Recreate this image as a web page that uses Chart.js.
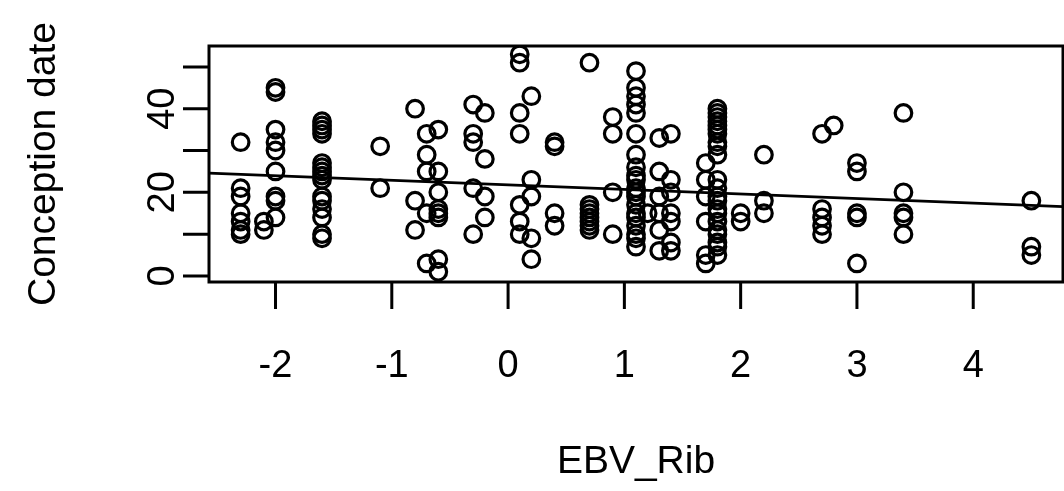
<!DOCTYPE html>
<html>
<head>
<meta charset="utf-8">
<title>Conception date vs EBV_Rib</title>
<script src="https://cdn.jsdelivr.net/npm/chart.js@4.4.0/dist/chart.umd.min.js"></script>
<style>
    html, body { margin: 0; padding: 0; background: #ffffff; overflow: hidden; }
    canvas { display: block; }
</style>
</head>
<body>
<canvas id="scatter" width="1064" height="491"></canvas>
<script>
"use strict";

// Data, one column of EBV_Rib per line
var ebvRib = [
    -2.3, -2.3, -2.3, -2.3, -2.3, -2.3, -2.3,
    -2.1, -2.1,
    -2.0, -2.0, -2.0, -2.0, -2.0, -2.0, -2.0, -2.0, -2.0,
    -1.6, -1.6, -1.6, -1.6, -1.6, -1.6, -1.6, -1.6, -1.6, -1.6, -1.6, -1.6, -1.6, -1.6, -1.6,
    -1.1, -1.1,
    -0.8, -0.8, -0.8,
    -0.7, -0.7, -0.7, -0.7, -0.7,
    -0.6, -0.6, -0.6, -0.6, -0.6, -0.6, -0.6, -0.6,
    -0.3, -0.3, -0.3, -0.3, -0.3,
    -0.2, -0.2, -0.2, -0.2,
    0.1, 0.1, 0.1, 0.1, 0.1, 0.1, 0.1,
    0.2, 0.2, 0.2, 0.2, 0.2,
    0.4, 0.4, 0.4, 0.4,
    0.7, 0.7, 0.7, 0.7, 0.7, 0.7, 0.7, 0.7,
    0.9, 0.9, 0.9, 0.9,
    1.1, 1.1, 1.1, 1.1, 1.1, 1.1, 1.1, 1.1, 1.1, 1.1, 1.1, 1.1, 1.1, 1.1, 1.1, 1.1, 1.1, 1.1, 1.1, 1.1,
    1.2,
    1.3, 1.3, 1.3, 1.3, 1.3, 1.3,
    1.4, 1.4, 1.4, 1.4, 1.4, 1.4, 1.4,
    1.7, 1.7, 1.7, 1.7, 1.7, 1.7,
    1.8, 1.8, 1.8, 1.8, 1.8, 1.8, 1.8, 1.8, 1.8, 1.8, 1.8, 1.8, 1.8, 1.8, 1.8, 1.8, 1.8, 1.8, 1.8, 1.8, 1.8, 1.8,
    2.0, 2.0,
    2.2, 2.2, 2.2,
    2.7, 2.7, 2.7, 2.7, 2.7,
    2.8,
    3.0, 3.0, 3.0, 3.0, 3.0,
    3.4, 3.4, 3.4, 3.4, 3.4,
    4.5, 4.5, 4.5
];
var conceptionDate = [
    32, 21, 19, 15, 13, 11, 10,
    13, 11,
    45, 44, 35, 32, 30, 25, 19, 18, 14,
    37, 36, 35, 34, 27, 26, 25, 24, 23, 19, 18, 16, 14, 10, 9,
    31, 21,
    40, 18, 11,
    34, 29, 25, 15, 3,
    35, 25, 20, 16, 15, 14, 4, 1,
    41, 34, 32, 21, 10,
    39, 28, 19, 14,
    53, 51, 39, 34, 17, 13, 10,
    43, 23, 19, 9, 4,
    32, 31, 15, 12,
    51, 17, 16, 15, 14, 13, 12, 11,
    38, 34, 20, 10,
    49, 45, 43, 41, 39, 34, 29, 26, 24, 23, 21, 20, 19, 17, 15, 14, 12, 10, 9, 7,
    15,
    33, 25, 19, 15, 11, 6,
    34, 23, 20, 15, 13, 8, 6,
    27, 23, 19, 13, 5, 3,
    40, 39, 38, 37, 36, 35, 34, 32, 31, 29, 23, 21, 19, 18, 16, 15, 13, 11, 10, 8, 7, 5,
    15, 13,
    29, 18, 15,
    34, 16, 14, 12, 10,
    36,
    27, 25, 15, 14, 3,
    39, 20, 15, 14, 10,
    18, 7, 5
];

// Fitted line (abline of lm)
var fitIntercept = 21.8;
var fitSlope = -1.09;

// Axis ticks and labels
var xTicks = [-2, -1, 0, 1, 2, 3, 4];
var yTicks = [0, 10, 20, 30, 40, 50];
var yTickLabels = [0, 20, 40];
var xTitle = "EBV_Rib";
var yTitle = "Conception date";

// Plot limits (R pads the data range by 4%)
var xMin = -2.572, xMax = 4.772;
var yMin = -1.45, yMax = 55.0;

var points = ebvRib.map(function (x, i) {
    return {x: x, y: conceptionDate[i]};
});
var fitLine = [xMin, xMax].map(function (x) {
    return {x: x, y: fitIntercept + fitSlope * x};
});


// Box, ticks and titles drawn R-style
var baseAxes = {
    id: "baseAxes",
    afterDraw: function (chart) {
        var ctx = chart.ctx;
        var area = chart.chartArea;
        var sx = chart.scales.x;
        var sy = chart.scales.y;

        ctx.save();
        ctx.strokeStyle = "#000000";
        ctx.fillStyle = "#000000";
        ctx.lineWidth = 3;
        ctx.strokeRect(area.left, area.top, area.right - area.left, area.bottom - area.top);

        // x axis
        ctx.beginPath();
        xTicks.forEach(function (v) {
            var px = sx.getPixelForValue(v);
            ctx.moveTo(px, area.bottom);
            ctx.lineTo(px, area.bottom + 27);
        });
        ctx.stroke();
        ctx.font = "38px 'Liberation Sans', Arial, sans-serif";
        ctx.textAlign = "center";
        ctx.textBaseline = "alphabetic";
        xTicks.forEach(function (v) {
            ctx.fillText(String(v), sx.getPixelForValue(v), 377);
        });

        // y axis
        ctx.beginPath();
        yTicks.forEach(function (v) {
            var py = sy.getPixelForValue(v);
            ctx.moveTo(area.left, py);
            ctx.lineTo(area.left - 26, py);
        });
        ctx.stroke();
        yTickLabels.forEach(function (v) {
            ctx.save();
            ctx.translate(174, sy.getPixelForValue(v));
            ctx.rotate(-Math.PI / 2);
            ctx.fillText(String(v), 0, 0);
            ctx.restore();
        });

        // titles
        ctx.font = "39px 'Liberation Sans', Arial, sans-serif";
        ctx.fillText(xTitle, (area.left + area.right) / 2, 473);
        ctx.save();
        ctx.translate(55, (area.top + area.bottom) / 2);
        ctx.rotate(-Math.PI / 2);
        ctx.fillText(yTitle, 0, 0);
        ctx.restore();

        ctx.restore();
    }
};


// Scatter chart
var ctx = document.getElementById("scatter").getContext("2d");
var myChart = new Chart(ctx, {
    type: "scatter",
    data: {
        datasets: [{
            label: yTitle,
            data: points,
            pointStyle: "circle",
            pointRadius: 8.3,
            pointHoverRadius: 8.3,
            borderColor: "#000000",
            borderWidth: 3.2,
            backgroundColor: "rgba(0,0,0,0)"
        }, {
            type: "line",
            label: "fit",
            data: fitLine,
            borderColor: "#000000",
            borderWidth: 2.8,
            pointRadius: 0,
            fill: false
        }]
    },
    options: {
        responsive: false,
        animation: false,
        devicePixelRatio: 1,
        layout: {
            autoPadding: false,
            padding: {left: 209, top: 46, right: 1, bottom: 209}
        },
        plugins: {
            legend: {display: false},
            tooltip: {enabled: false}
        },
        scales: {
            x: {type: "linear", min: xMin, max: xMax, display: false},
            y: {type: "linear", min: yMin, max: yMax, display: false}
        }
    },
    plugins: [baseAxes]
});
</script>
</body>
</html>
